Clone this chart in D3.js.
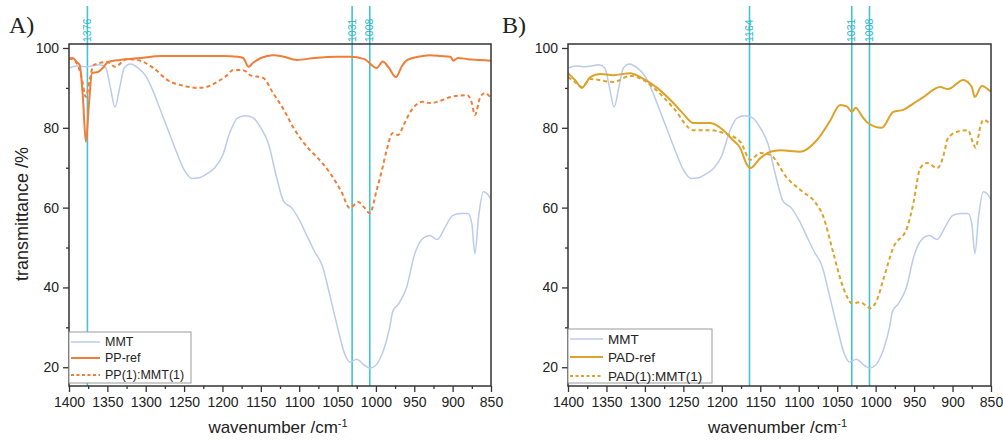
<!DOCTYPE html>
<html>
<head>
<meta charset="utf-8">
<script src="https://cdn.jsdelivr.net/npm/d3@7"></script>
<style>
  body { margin: 0; background: #fff; }
  text { font-family: "Liberation Sans", Arial, sans-serif; fill: #222; }
</style>
</head>
<body>
<script>
var width = 1003,
    height = 444;

// MMT spectrum (same in both panels): [wavenumber, transmittance]
var mmt = [[1400,95],[1390,95.5],[1380,95.3],[1370,95.5],[1360,95.8],[1352,95],[1346,90],[1340,85.2],
  [1334,90],[1328,95],[1320,96],[1310,95],[1300,93],[1290,89],[1280,84],[1270,79],[1260,74],[1250,69.5],
  [1240,67.3],[1230,67.5],[1220,68.5],[1210,70],[1200,73],[1190,79],[1180,82.5],[1170,83],[1160,82.5],
  [1150,80],[1140,76],[1130,68],[1120,61.5],[1110,60],[1100,57],[1090,53],[1080,49],[1070,45.5],
  [1060,38],[1050,30],[1040,23],[1034,21.3],[1025,22],[1015,20.5],[1008,19.8],[1000,20.5],[995,22],
  [988,25.5],[982,30],[978,34],[970,36],[960,40],[950,48],[940,52],[930,53],[920,52],[910,55],[900,58],
  [890,58.5],[880,58.5],[875,56],[871,48.5],[866,58],[860,64],[855,63.5],[850,62]];

var ppRef = [[1400,97.2],[1395,97.5],[1390,96.5],[1386,95.7],[1382,88],[1378,76.5],[1374,86],[1370,93.7],
  [1362,94],[1356,95],[1349,96.5],[1333,97],[1307,97.5],[1280,98],[1240,98],[1200,98],[1180,97.8],
  [1173,97.5],[1166,95.3],[1160,96.3],[1150,97.5],[1134,98.2],[1120,97.8],[1103,97],[1080,97.5],
  [1050,97.8],[1034,97.8],[1015,97.2],[999,95],[991,96.6],[983,95],[974,92.7],[966,95.5],[959,97],
  [945,97.8],[930,98.2],[915,98],[903,97.8],[899,96.8],[893,97.5],[880,97.2],[865,97],[850,96.8]];

var ppMmt = [[1400,97.5],[1390,96.2],[1384,93],[1378,87.7],[1373,92],[1368,95.7],[1350,96.5],[1340,95.3],
  [1325,97.2],[1311,97],[1290,95],[1272,92],[1250,90.5],[1233,90],[1220,90.3],[1207,91.5],[1195,93],
  [1186,94.5],[1176,94.5],[1168,94],[1164,93.2],[1147,92.5],[1134,88.7],[1120,84.5],[1108,80.2],
  [1086,74.4],[1077,72.7],[1060,68.7],[1045,64],[1034,59.9],[1023,61.4],[1015,60],[1008,58.6],
  [999,64.4],[992,69.5],[986,74.4],[978,78.7],[971,78.2],[963,81],[956,83.7],[939,86.5],[930,86.2],
  [920,86.5],[903,87.7],[881,88.2],[875,86.2],[871,83.2],[864,87.7],[858,88.7],[850,87.5]];

var padRef = [[1400,93.7],[1391,92],[1382,90],[1371,92.7],[1358,93.5],[1341,93.2],[1319,93.7],[1306,92.7],
  [1284,90],[1263,86.2],[1250,83.5],[1237,81.2],[1215,81.2],[1198,79.4],[1186,77],[1176,74.9],
  [1168,71],[1163,69.9],[1150,72.4],[1137,74],[1124,74.4],[1098,74],[1076,77],[1060,81.5],[1046,85.7],
  [1037,85.3],[1031,84],[1026,85],[1018,83],[1010,81.2],[992,80],[977,84],[964,84.5],[950,86.2],
  [938,87.7],[916,90.2],[906,89.7],[886,92],[875,90.2],[871,87.7],[862,90.5],[850,89]];

var padMmt = [[1400,92.7],[1391,91.5],[1382,90.2],[1371,92.2],[1341,91.5],[1319,93],[1302,92],
  [1284,89.2],[1263,85],[1237,79.4],[1215,79.4],[1198,78.7],[1176,76.5],[1163,72],[1150,73.7],
  [1137,73.2],[1115,67.4],[1095,64],[1081,61.9],[1068,57.7],[1055,48.6],[1044,41],[1037,37.6],
  [1031,36],[1020,36.3],[1007,34.8],[998,37],[990,42],[977,50],[959,55],[951,61],[942,69.9],
  [933,71.2],[920,69.9],[910,74.4],[907,77],[894,79],[880,79.4],[873,76],[870,75],[864,80.2],
  [860,82],[850,80.7]];

var markA = [1376, 1031, 1008];
var markB = [1164, 1031, 1008];

var xTicks = [1400, 1350, 1300, 1250, 1200, 1150, 1100, 1050, 1000, 950, 900, 850];
var yTicks = [20, 40, 60, 80, 100];

var colMMT = "#bccbeb",
    colPP = "#f07d38",
    colPAD = "#dca22a",
    colMark = "#45c3d1";

var svg = d3.select("body").append("svg")
  .attr("width", width)
  .attr("height", height);

function panel(opt) {
  var x = d3.scaleLinear().domain([1400, 850]).range([opt.left, opt.right]);
  var y = d3.scaleLinear().domain([15.3, 101]).range([386, 44]);
  var g = svg.append("g");

  g.append("clipPath").attr("id", "clip" + opt.id)
    .append("rect")
    .attr("x", opt.left).attr("y", 44)
    .attr("width", opt.right - opt.left).attr("height", 342);

  // marker lines
  opt.marks.forEach(function(m) {
    g.append("line")
      .attr("x1", x(m)).attr("x2", x(m))
      .attr("y1", 6).attr("y2", 386)
      .attr("stroke", colMark)
      .attr("stroke-width", 1.6);
    g.append("text")
      .attr("transform", "translate(" + x(m) + ",42) rotate(-90)")
      .attr("dy", "0.35em")
      .style("font-size", "10.5px")
      .style("fill", "#2db7c9")
      .text(m);
  });

  var line = d3.line()
    .x(function(d) { return x(d[0]); })
    .y(function(d) { return y(d[1]); })
    .curve(d3.curveMonotoneX);

  var curves = g.append("g").attr("clip-path", "url(#clip" + opt.id + ")");
  opt.series.forEach(function(s) {
    curves.append("path")
      .datum(s.data)
      .attr("fill", "none")
      .attr("stroke", s.color)
      .attr("stroke-width", s.w)
      .attr("stroke-dasharray", s.dash ? "4,3" : null)
      .attr("d", line);
  });

  // frame
  g.append("rect")
    .attr("x", opt.left).attr("y", 44)
    .attr("width", opt.right - opt.left).attr("height", 342)
    .attr("fill", "none")
    .attr("stroke", "#333")
    .attr("stroke-width", 1.5);

  // x axis
  var xa = g.append("g").attr("transform", "translate(0,386)");
  xa.call(d3.axisBottom(x).tickValues(xTicks).tickSize(6).tickPadding(5).tickFormat(d3.format("d")));
  xa.append("g").call(d3.axisBottom(x).tickValues(d3.range(1375, 850, -50)).tickSize(3).tickFormat(""));
  // y axis
  var ya = g.append("g").attr("transform", "translate(" + opt.left + ",0)");
  ya.call(d3.axisLeft(y).tickValues(yTicks).tickSize(6).tickPadding(4));
  ya.append("g").call(d3.axisLeft(y).tickValues([30, 50, 70, 90]).tickSize(3).tickFormat(""));
  g.selectAll(".domain").remove();
  g.selectAll(".tick line").attr("stroke", "#333").attr("stroke-width", 1.3);
  g.selectAll(".tick text").style("font-size", "14px").style("fill", "#222")
    .style("font-family", "Liberation Sans, Arial, sans-serif");

  // x label
  var xl = g.append("text")
    .attr("x", (opt.left + opt.right) / 2 - 2)
    .attr("y", 433)
    .attr("text-anchor", "middle")
    .style("font-size", "17px");
  xl.append("tspan").text("wavenumber /cm");
  xl.append("tspan").attr("baseline-shift", "super").style("font-size", "11px").text("-1");

  // panel letter
  g.append("text")
    .attr("x", opt.letterX).attr("y", 33)
    .style("font-family", "Liberation Serif, Times New Roman, serif")
    .style("font-size", "24px")
    .text(opt.letter);

  // legend
  var lg = g.append("g");
  lg.append("rect")
    .attr("x", opt.left).attr("y", opt.leg.top)
    .attr("width", opt.leg.w).attr("height", 383 - opt.leg.top)
    .attr("fill", "#fff")
    .attr("stroke", "#9a9a9a")
    .attr("stroke-width", 1);
  opt.series.forEach(function(s, i) {
    var ly = opt.leg.rows[i];
    lg.append("line")
      .attr("x1", opt.left + 2).attr("x2", opt.left + opt.leg.sample)
      .attr("y1", ly).attr("y2", ly)
      .attr("stroke", s.color)
      .attr("stroke-width", s.w)
      .attr("stroke-dasharray", s.dash ? "3,2.5" : null);
    lg.append("text")
      .attr("x", opt.left + opt.leg.sample + 5)
      .attr("y", ly)
      .attr("dy", "0.35em")
      .style("font-size", opt.leg.font)
      .text(s.name);
  });
}

panel({
  id: "A", left: 69, right: 491, letter: "A)", letterX: 9, marks: markA,
  series: [
    {name: "MMT", data: mmt, color: colMMT, w: 1.5},
    {name: "PP-ref", data: ppRef, color: colPP, w: 2},
    {name: "PP(1):MMT(1)", data: ppMmt, color: colPP, w: 2, dash: true}
  ],
  leg: {top: 332, w: 122, rows: [342, 358, 375], sample: 31, font: "12.5px"}
});

panel({
  id: "B", left: 568, right: 991, letter: "B)", letterX: 502, marks: markB,
  series: [
    {name: "MMT", data: mmt, color: colMMT, w: 1.5},
    {name: "PAD-ref", data: padRef, color: colPAD, w: 2},
    {name: "PAD(1):MMT(1)", data: padMmt, color: colPAD, w: 2, dash: true}
  ],
  leg: {top: 329, w: 144, rows: [339, 357, 376], sample: 35, font: "13.5px"}
});

// shared y label
svg.append("text")
  .attr("transform", "translate(28,214) rotate(-90)")
  .attr("text-anchor", "middle")
  .style("font-size", "18px")
  .text("transmittance /%");
</script>
</body>
</html>
